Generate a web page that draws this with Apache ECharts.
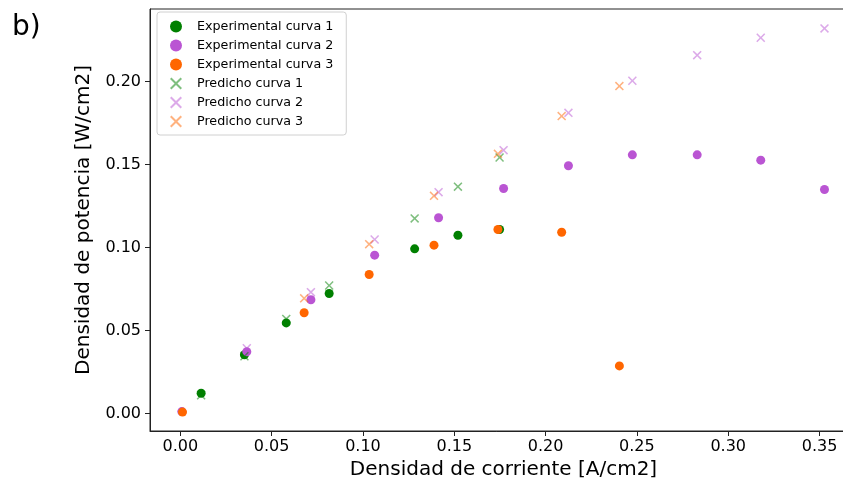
<!DOCTYPE html>
<html>
<head>
<meta charset="utf-8">
<script src="https://cdn.jsdelivr.net/npm/echarts@6/dist/echarts.min.js"></script>
<style>
html,body{margin:0;padding:0;background:#fff;overflow:hidden;}
#chart{width:843px;height:489px;}
</style>
</head>
<body>
<div id="chart"></div>
<script>
// ---- data ----
const exp1X = [0.0114, 0.0351, 0.0580, 0.0815, 0.1283, 0.1520, 0.1748];
const exp1Y = [0.0122, 0.0354, 0.0546, 0.0723, 0.0992, 0.1074, 0.1108];
const pred1X = [0.0114, 0.0351, 0.0580, 0.0815, 0.1283, 0.1520, 0.1748];
const pred1Y = [0.0110, 0.0345, 0.0570, 0.0771, 0.1175, 0.1366, 0.1542];

const exp2X = [0.0008, 0.0364, 0.0715, 0.1064, 0.1414, 0.1770, 0.2125, 0.2475, 0.2830, 0.3178, 0.3527];
const exp2Y = [0.0012, 0.0372, 0.0685, 0.0954, 0.1179, 0.1355, 0.1492, 0.1558, 0.1558, 0.1526, 0.1349];
const pred2X = [0.0364, 0.0715, 0.1064, 0.1414, 0.1770, 0.2125, 0.2475, 0.2830, 0.3178, 0.3527];
const pred2Y = [0.0393, 0.0731, 0.1048, 0.1333, 0.1586, 0.1811, 0.2004, 0.2158, 0.2263, 0.2319];

const exp3X = [0.0012, 0.0678, 0.1034, 0.1389, 0.1739, 0.2088, 0.2404];
const exp3Y = [0.0009, 0.0607, 0.0837, 0.1014, 0.1108, 0.1092, 0.0287];
const pred3X = [0.0678, 0.1034, 0.1389, 0.1739, 0.2088, 0.2404];
const pred3Y = [0.0694, 0.1020, 0.1311, 0.1564, 0.1791, 0.1972];

const xTicks = [0.00, 0.05, 0.10, 0.15, 0.20, 0.25, 0.30, 0.35];
const yTicks = [0.00, 0.05, 0.10, 0.15, 0.20];

const seriesNames = ['Experimental curva 1', 'Experimental curva 2', 'Experimental curva 3',
                     'Predicho curva 1', 'Predicho curva 2', 'Predicho curva 3'];
const colors = ['#008000', '#ba55d3', '#ff6600'];

// ---- helpers ----
function pairs(xs, ys) { return xs.map((x, i) => [x, ys[i]]); }
const k = 1.2;
const xPath = 'path://M0,' + k + 'L' + k + ',0L5,' + (5 - k) + 'L' + (10 - k) + ',0L10,' + k +
  'L' + (5 + k) + ',5L10,' + (10 - k) + 'L' + (10 - k) + ',10L5,' + (5 + k) + 'L' + k + ',10L0,' +
  (10 - k) + 'L' + (5 - k) + ',5Z';

const font = 'DejaVu Sans';
const expData = [pairs(exp1X, exp1Y), pairs(exp2X, exp2Y), pairs(exp3X, exp3Y)];
const predData = [pairs(pred1X, pred1Y), pairs(pred2X, pred2Y), pairs(pred3X, pred3Y)];

const series = [];
for (let i = 0; i < 3; i++) {
  series.push({
    name: seriesNames[i], type: 'scatter', data: expData[i],
    symbol: 'circle', symbolSize: 9,
    itemStyle: { color: colors[i], opacity: 1 },
    emphasis: { disabled: true }
  });
}
for (let i = 0; i < 3; i++) {
  series.push({
    name: seriesNames[3 + i], type: 'scatter', data: predData[i],
    symbol: xPath, symbolSize: 9,
    itemStyle: { color: colors[i], opacity: 0.5 },
    emphasis: { disabled: true }
  });
}

const chart = echarts.init(document.getElementById('chart'), null, { renderer: 'canvas' });
chart.setOption({
  animation: false,
  backgroundColor: '#fff',
  textStyle: { fontFamily: font },
  title: {
    text: 'b)', left: 7, top: 9,
    textStyle: { fontFamily: font, fontSize: 28, fontWeight: 'normal', color: '#000' }
  },
  grid: {
    left: 150, top: 9, width: 707, height: 422,
    outerBoundsMode: 'none', containLabel: false,
    show: true, borderColor: '#222', borderWidth: 1, backgroundColor: 'transparent'
  },
  legend: {
    orient: 'vertical', left: 157, top: 12,
    padding: [8, 13, 7, 13],
    itemGap: 6, itemWidth: 12, itemHeight: 12,
    backgroundColor: 'rgba(255,255,255,0.85)',
    borderColor: '#d0d0d0', borderWidth: 1, borderRadius: 3,
    textStyle: { fontFamily: font, fontSize: 12.7, color: '#000', padding: [0, 0, 0, 10] },
    data: seriesNames.map((n, i) => ({ name: n, icon: i < 3 ? 'circle' : xPath }))
  },
  xAxis: {
    type: 'value', min: -0.0166, max: 0.3705,
    name: 'Densidad de corriente [A/cm2]', nameLocation: 'middle', nameGap: 29,
    nameTextStyle: { fontFamily: font, fontSize: 20, color: '#000' },
    axisLine: { show: true, onZero: false, lineStyle: { color: '#222', width: 1 } },
    axisTick: { show: true, length: 5, customValues: xTicks, lineStyle: { color: '#222' } },
    axisLabel: {
      customValues: xTicks, margin: 8, fontFamily: font, fontSize: 16, color: '#000',
      formatter: v => v.toFixed(2)
    },
    splitLine: { show: false }
  },
  yAxis: {
    type: 'value', min: -0.0105, max: 0.2436,
    name: 'Densidad de potencia [W/cm2]', nameLocation: 'middle', nameGap: 56,
    nameTextStyle: { fontFamily: font, fontSize: 20, color: '#000' },
    axisLine: { show: true, onZero: false, lineStyle: { color: '#222', width: 1 } },
    axisTick: { show: true, length: 5, customValues: yTicks, lineStyle: { color: '#222' } },
    axisLabel: {
      customValues: yTicks, margin: 9, fontFamily: font, fontSize: 16, color: '#000',
      formatter: v => v.toFixed(2)
    },
    splitLine: { show: false }
  },
  series: series
});
</script>
</body>
</html>
